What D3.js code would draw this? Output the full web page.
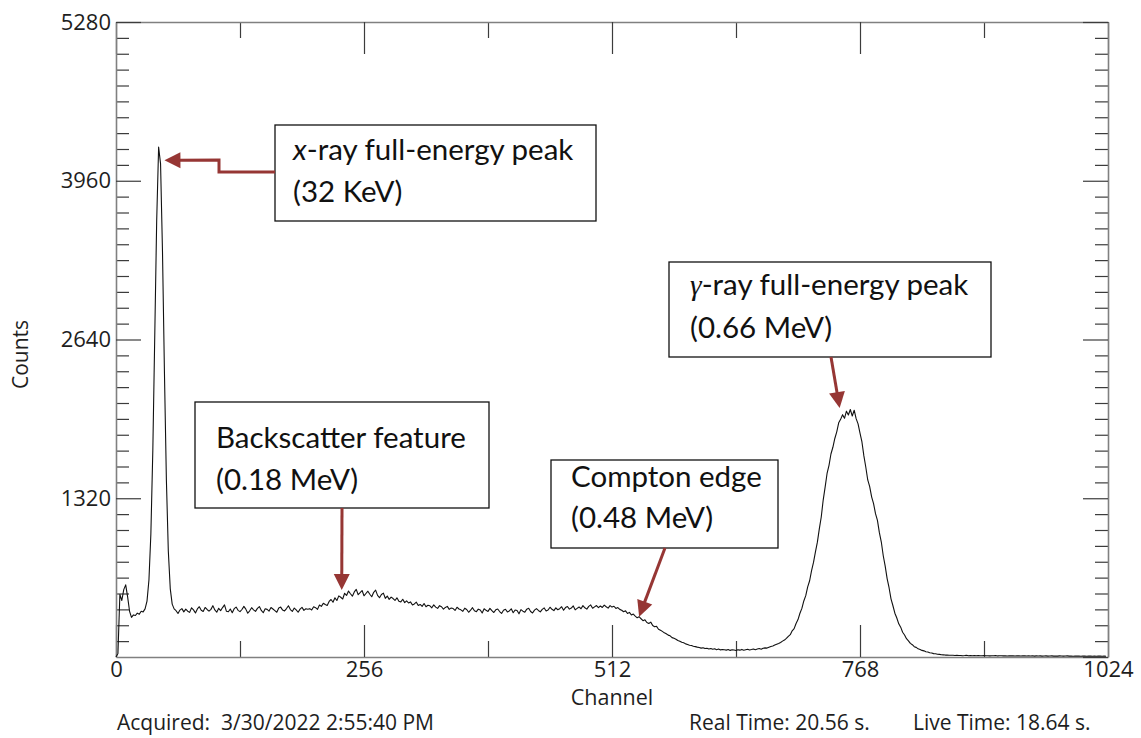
<!DOCTYPE html>
<html>
<head>
<meta charset="utf-8">
<script src="https://cdn.jsdelivr.net/npm/d3@7"></script>
<style>
  html, body { margin: 0; padding: 0; background: #fff; }
  svg { display: block; }
  text { white-space: pre; }
</style>
</head>
<body>
<svg id="chart" width="1141" height="738"></svg>
<script>
// ---- Spectrum: counts per channel, sampled every 2 channels (channel 0 .. 1022)
const channelStep = 2;
const counts = [
  // 0-30: low-energy edge
  0, 30, 520, 470, 560, 600, 500, 380, 330, 350, 345, 365, 355, 380, 375, 400,
  // 32-60: x-ray peak
  465, 640, 1025, 1716, 2670, 3630, 4240, 4100, 3365, 2368, 1476, 882, 569, 440, 400,
  // 62-198: flat continuum
  385, 362, 390, 402, 375, 398, 381, 371, 409, 392,
  366, 400, 418, 389, 378, 412, 395, 381, 396, 427,
  391, 372, 405, 386, 411, 433, 380, 376, 399, 368,
  402, 415, 388, 377, 395, 421, 398, 364, 384, 410,
  392, 379, 404, 419, 387, 368, 401, 396, 382, 412,
  399, 386, 372, 408, 415, 390, 383, 403, 426, 394,
  379, 407, 391, 372, 398, 413, 388, 401, 397,
  // 200-300: backscatter bump
  402, 391, 418, 410, 396, 432, 421, 447, 436, 428,
  462, 478, 455, 492, 470, 508, 497, 482, 530, 512,
  548, 526, 506, 541, 562, 518, 535, 553, 509, 528,
  547, 522, 501, 538, 556, 512, 493, 520, 531, 488,
  507, 479, 498, 486, 470, 492, 463, 458, 480, 452,
  467,
  // 302-500: Compton continuum
  449, 458, 433, 441, 456, 429, 437, 421, 445, 418,
  430, 426, 409, 433, 415, 404, 427, 418, 398, 412,
  421, 396, 408, 403, 387, 414, 399, 392, 380, 406,
  395, 372, 389, 410, 384, 377, 398, 391, 366, 401,
  388, 379, 404, 385, 370, 392, 399, 378, 362, 389,
  397, 375, 383, 401, 368, 391, 386, 359, 394, 381,
  372, 398, 405, 378, 366, 390, 402, 387, 375, 396,
  408, 383, 391, 414, 397, 386, 409, 393, 402, 418,
  389, 411, 420, 398, 407, 425, 392, 404, 416, 401,
  427, 409, 398, 421, 433, 405, 417, 428, 411, 424,
  // 502-600: Compton edge
  412, 431, 418, 406, 427, 415, 422, 404, 411, 396,
  389, 376, 384, 362, 371, 349, 357, 340, 326, 335,
  318, 302, 309, 287, 279, 290, 262, 251, 255, 231,
  222, 213, 201, 193, 182, 176, 161, 155, 148, 137,
  131, 122, 118, 109, 104, 98, 96, 90, 86, 82,
  // 602-690: valley
  79, 74, 77, 70, 73, 66, 71, 64, 68, 61,
  66, 59, 63, 60, 57, 62, 55, 60, 58, 54,
  61, 57, 63, 56, 60, 64, 58, 62, 67, 61,
  66, 70, 65, 73, 76, 74, 81, 88, 91, 99,
  106, 113, 121, 132, 141,
  // 692-860: gamma-ray peak
  155, 172, 186, 218, 236, 279, 311, 364, 404, 466,
  510, 583, 634, 719, 786, 874, 955, 1066, 1164, 1305,
  1412, 1526, 1594, 1688, 1744, 1817, 1872, 1947, 1976, 2015,
  1985, 2044, 2012, 2058, 2004, 2052, 1982, 1938, 1862, 1788,
  1672, 1578, 1472, 1416, 1332, 1276, 1192, 1136, 1034, 956,
  842, 756, 652, 576, 484, 426, 364, 324, 276, 248,
  206, 183, 152, 134, 113, 102, 86, 80, 68, 63,
  55, 51, 44, 41, 35, 33, 28, 27, 23, 22,
  19, 18, 16, 16, 14,
  // 862-1022: high-energy tail
  14, 15, 13, 14, 12, 13, 11, 12, 14, 11,
  12, 10, 12, 11, 13, 10, 11, 12, 10, 11,
  9, 11, 10, 12, 9, 10, 11, 9, 10, 8,
  10, 9, 11, 8, 9, 10, 8, 9, 10, 8,
  9, 8, 10, 7, 9, 8, 9, 7, 8, 9,
  7, 8, 9, 7, 8, 7, 9, 8, 7, 8,
  9, 7, 8, 6, 8, 7, 8, 6, 7, 8,
  6, 7, 8, 6, 7, 6, 8, 7, 6, 7,
  6
];

// ---- Axis ticks
const xMajorTicks = [0, 256, 512, 768, 1024];
const xMinorTicks = [128, 384, 640, 896];
const yMajorTicks = [0, 1320, 2640, 3960, 5280];
const yLabelTicks = [1320, 2640, 3960, 5280];
const yMinorStep = 132;

// ---- Annotations (text and the spectral feature each one points at)
const noteLead = ["x", "\u03B3", "", ""];
const noteLine1 = ["-ray full-energy peak", "-ray full-energy peak", "Backscatter feature", "Compton edge"];
const noteLine2 = ["(32 KeV)", "(0.66 MeV)", "(0.18 MeV)", "(0.48 MeV)"];
const noteChannel = [50, 747, 233, 540];
const noteCount = [4130, 2070, 557, 335];

const titleX = "Channel";
const titleY = "Counts";
const footerAcquired = "Acquired:  3/30/2022 2:55:40 PM";
const footerRealTime = "Real Time: 20.56 s.";
const footerLiveTime = "Live Time: 18.64 s.";

// ---------------------------------------------------------------
const plot = { left: 116, right: 1108, top: 22, bottom: 657 };
const svg = d3.select("#chart");

const x = d3.scaleLinear().domain([0, 1024]).range([plot.left, plot.right]);
const y = d3.scaleLinear().domain([0, 5280]).range([plot.bottom, plot.top]);

const frameColor = "#808080";
const tickColor = "#3c3c3c";
const tickFont = "'Open Sans', 'Noto Sans', sans-serif";

function styleAxis(g, keepDomain) {
  if (keepDomain) {
    g.select(".domain").attr("stroke", frameColor).attr("stroke-width", 1.6);
  } else {
    g.select(".domain").remove();
  }
  g.selectAll(".tick line").attr("stroke", tickColor).attr("stroke-width", 1.2);
  g.selectAll(".tick text")
    .attr("font-family", tickFont)
    .attr("font-size", 22)
    .attr("fill", "#1e1e1e");
  g.attr("font-family", null).attr("font-size", null);
}

const yMinorTicks = d3.range(0, 5280 + 1, yMinorStep).filter(v => v % 1320 !== 0);

// bottom axis
svg.append("g").attr("transform", `translate(0,${plot.bottom})`)
  .call(d3.axisBottom(x).tickValues(xMinorTicks).tickSize(-16).tickSizeOuter(0).tickFormat(""))
  .call(g => styleAxis(g, false));
svg.append("g").attr("transform", `translate(0,${plot.bottom})`)
  .call(d3.axisBottom(x).tickValues(xMajorTicks).tickSize(-32).tickSizeOuter(0).tickPadding(4).tickFormat(d3.format("d")))
  .call(g => styleAxis(g, true));

// top axis
svg.append("g").attr("transform", `translate(0,${plot.top})`)
  .call(d3.axisTop(x).tickValues(xMinorTicks).tickSize(-16).tickSizeOuter(0).tickFormat(""))
  .call(g => styleAxis(g, false));
svg.append("g").attr("transform", `translate(0,${plot.top})`)
  .call(d3.axisTop(x).tickValues(xMajorTicks).tickSize(-32).tickSizeOuter(0).tickFormat(""))
  .call(g => styleAxis(g, true));

// left axis
svg.append("g").attr("transform", `translate(${plot.left},0)`)
  .call(d3.axisLeft(y).tickValues(yMinorTicks).tickSize(-13).tickSizeOuter(0).tickFormat(""))
  .call(g => styleAxis(g, false));
svg.append("g").attr("transform", `translate(${plot.left},0)`)
  .call(d3.axisLeft(y).tickValues(yLabelTicks).tickSize(-25).tickSizeOuter(0).tickPadding(5).tickFormat(d3.format("d")))
  .call(g => styleAxis(g, true));

// right axis
svg.append("g").attr("transform", `translate(${plot.right},0)`)
  .call(d3.axisRight(y).tickValues(yMinorTicks).tickSize(-13).tickSizeOuter(0).tickFormat(""))
  .call(g => styleAxis(g, false));
svg.append("g").attr("transform", `translate(${plot.right},0)`)
  .call(d3.axisRight(y).tickValues(yMajorTicks).tickSize(-25).tickSizeOuter(0).tickFormat(""))
  .call(g => styleAxis(g, true));

// spectrum trace
const spectrum = counts.map((c, i) => ({ ch: i * channelStep, c }));
svg.append("path")
  .datum(spectrum)
  .attr("fill", "none")
  .attr("stroke", "#111")
  .attr("stroke-width", 1.1)
  .attr("stroke-linejoin", "round")
  .attr("d", d3.line().x(d => x(d.ch)).y(d => y(d.c)));

// axis titles and acquisition footer
const labelColor = "#1e1e1e";
svg.append("text")
  .attr("x", (plot.left + plot.right) / 2).attr("y", 705)
  .attr("text-anchor", "middle")
  .attr("font-family", tickFont).attr("font-size", 21.5).attr("fill", labelColor)
  .text(titleX);
svg.append("text")
  .attr("transform", `translate(28,${(plot.top + plot.bottom) / 2 + 15}) rotate(-90)`)
  .attr("text-anchor", "middle")
  .attr("font-family", tickFont).attr("font-size", 21).attr("fill", labelColor)
  .text(titleY);
const footer = svg.append("g")
  .attr("font-family", tickFont).attr("font-size", 21).attr("fill", labelColor);
footer.append("text").attr("x", 117).attr("y", 730).text(footerAcquired);
footer.append("text").attr("x", 689).attr("y", 730).text(footerRealTime);
footer.append("text").attr("x", 913).attr("y", 730).text(footerLiveTime);

// ---- annotation boxes and arrows
const noteFont = "Lato, 'Open Sans', sans-serif";
const arrowColor = "#963634";

// size the callout text so "Backscatter feature" spans about 250px
const probe = svg.append("text").attr("font-family", noteFont).attr("font-size", 100).text("Backscatter feature");
const noteSize = 100 * 250 / probe.node().getComputedTextLength();
probe.remove();

const boxes = [
  { x: 275, y: 125, w: 321, h: 96, tx: 293, b1: 160, b2: 202 },
  { x: 669, y: 262, w: 322, h: 95, tx: 690, b1: 295, b2: 338 },
  { x: 195, y: 402, w: 294, h: 106, tx: 216, b1: 448, b2: 490 },
  { x: 551, y: 460, w: 227, h: 88, tx: 571, b1: 487, b2: 528 }
];
// arrow routes start at each box and end on the marked feature
const arrowStarts = [
  [[275, 172], [219, 172], [219, 160]],
  [[831, 357]],
  [[342, 508]],
  [[665, 548]]
];

const notes = svg.append("g");
boxes.forEach((b, i) => {
  notes.append("rect")
    .attr("x", b.x).attr("y", b.y).attr("width", b.w).attr("height", b.h)
    .attr("fill", "#fff").attr("stroke", "#111").attr("stroke-width", 1.3);
  const t1 = notes.append("text")
    .attr("x", b.tx).attr("y", b.b1)
    .attr("font-family", noteFont).attr("font-size", noteSize).attr("fill", "#111");
  if (noteLead[i]) {
    t1.append("tspan")
      .attr("font-style", "italic")
      .attr("font-family", i === 1 ? "'Liberation Serif', 'DejaVu Serif', serif" : noteFont)
      .text(noteLead[i]);
  }
  t1.append("tspan").text(noteLine1[i]);
  notes.append("text")
    .attr("x", b.tx).attr("y", b.b2)
    .attr("font-family", noteFont).attr("font-size", noteSize).attr("fill", "#111")
    .text(noteLine2[i]);

  // arrow
  const tip = [x(noteChannel[i]), y(noteCount[i])];
  const pts = arrowStarts[i].concat([tip]);
  const prev = pts[pts.length - 2];
  const dx = tip[0] - prev[0], dy = tip[1] - prev[1];
  const len = Math.hypot(dx, dy);
  const ux = dx / len, uy = dy / len;
  const headLen = 16, headHalf = 8;
  const base = [tip[0] - ux * headLen, tip[1] - uy * headLen];
  const shaft = pts.slice(0, -1).concat([[tip[0] - ux * (headLen - 2), tip[1] - uy * (headLen - 2)]]);
  notes.append("path")
    .attr("d", d3.line()(shaft))
    .attr("fill", "none").attr("stroke", arrowColor).attr("stroke-width", 3)
    .attr("stroke-linejoin", "miter");
  notes.append("path")
    .attr("d", d3.line()([
      tip,
      [base[0] - uy * headHalf, base[1] + ux * headHalf],
      [base[0] + uy * headHalf, base[1] - ux * headHalf]
    ]) + "Z")
    .attr("fill", arrowColor).attr("stroke", "none");
});
</script>
</body>
</html>
